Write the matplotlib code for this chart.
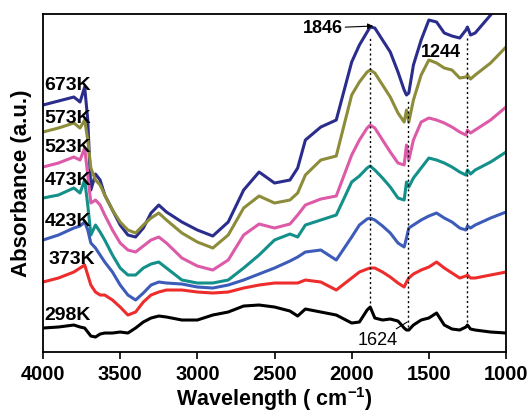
import matplotlib
matplotlib.use("Agg")
import matplotlib.pyplot as plt

# Wavenumber grid (cm-1) shared by every spectrum
wavenumber = [4000, 3900, 3800, 3760, 3730, 3710, 3690, 3660, 3630, 3600,
              3550, 3500, 3450, 3400, 3350, 3300, 3250, 3200, 3100, 3000,
              2900, 2800, 2700, 2600, 2500, 2400, 2350, 2300, 2200, 2100,
              2000, 1950, 1900, 1880, 1850, 1800, 1750, 1700, 1660, 1645,
              1630, 1600, 1550, 1500, 1450, 1400, 1350, 1300, 1260, 1250,
              1230, 1200, 1100, 1000]

# Absorbance (a.u., offset spectra)
abs_673 = [247, 251, 255, 250, 265, 232, 162, 178, 172, 157,
           142, 127, 117, 115, 124, 139, 147, 140, 130, 122,
           116, 130, 162, 180, 169, 172, 184, 212, 225, 232,
           290, 307, 320, 325, 324, 312, 300, 280, 262, 257,
           259, 287, 312, 332, 330, 319, 316, 314, 322, 325,
           317, 319, 337, 357]
abs_573 = [220, 224, 229, 224, 232, 212, 184, 172, 167, 157,
           142, 130, 122, 119, 127, 134, 139, 132, 119, 110,
           104, 117, 144, 156, 149, 152, 159, 177, 192, 196,
           257, 270, 280, 282, 279, 267, 255, 239, 230, 242,
           230, 252, 277, 292, 289, 284, 282, 274, 275, 277,
           273, 277, 289, 305]
abs_523 = [185, 189, 195, 192, 204, 177, 149, 152, 147, 137,
           122, 109, 102, 100, 106, 112, 115, 109, 94, 86,
           82, 92, 117, 128, 124, 128, 137, 147, 153, 156,
           197, 212, 224, 227, 224, 212, 200, 189, 187, 207,
           192, 212, 230, 234, 232, 229, 225, 220, 217, 222,
           219, 222, 232, 245]
abs_473 = [154, 157, 164, 159, 172, 147, 117, 127, 120, 112,
           97, 84, 77, 77, 84, 88, 90, 84, 72, 69,
           69, 72, 84, 97, 112, 118, 115, 127, 132, 137,
           170, 176, 184, 186, 182, 174, 165, 154, 152, 170,
           165, 174, 184, 194, 192, 189, 185, 180, 177, 182,
           178, 182, 190, 200]
abs_423 = [112, 117, 124, 126, 130, 122, 109, 104, 97, 90,
           80, 67, 57, 52, 59, 67, 70, 69, 68, 65,
           64, 67, 72, 78, 84, 91, 95, 100, 102, 92,
           115, 127, 133, 134, 132, 126, 119, 109, 105, 114,
           124, 127, 132, 136, 139, 134, 130, 124, 122, 126,
           124, 127, 134, 140]
abs_373 = [70, 74, 80, 84, 87, 77, 67, 60, 57, 57,
           52, 45, 37, 40, 50, 57, 60, 62, 62, 60,
           59, 60, 64, 67, 69, 69, 69, 72, 70, 62,
           74, 80, 83, 84, 84, 80, 75, 69, 65, 70,
           74, 78, 82, 85, 90, 84, 79, 74, 76, 77,
           74, 74, 77, 80]
abs_298 = [24, 25, 27, 25, 24, 20, 16, 15, 18, 19,
           19, 20, 19, 24, 30, 34, 36, 35, 32, 32,
           37, 40, 46, 47, 45, 41, 36, 43, 40, 37,
           29, 30, 42, 45, 34, 32, 33, 31, 24, 22,
           22, 27, 32, 34, 39, 27, 23, 22, 25, 27,
           23, 22, 20, 19]

labels = ["673K", "573K", "523K", "473K", "423K", "373K", "298K"]
spectra = [abs_673, abs_573, abs_523, abs_473, abs_423, abs_373, abs_298]
colors = ["#2b2d8c", "#8c8c3a", "#dd5aa8", "#13908a", "#3d5cba", "#ee2c2c", "#000000"]
label_y = [267, 234, 205, 172, 131, 93, 37]
label_x = [3990, 3990, 3990, 3990, 3990, 3965, 3990]

# Marker lines: position, bottom, top
mark_pos = [1881, 1635, 1253]
mark_low = [49, 25, 30]
mark_high = [314, 252, 317]

FONT = "Liberation Sans"
plt.rcParams["mathtext.fontset"] = "custom"
plt.rcParams["mathtext.bf"] = "Liberation Sans:bold"
plt.rcParams["mathtext.rm"] = "Liberation Sans"

fig = plt.figure(figsize=(5.27, 4.16), dpi=100)
ax = fig.add_axes([0.0816, 0.1538, 0.8786, 0.8125])

for y, c in zip(spectra, colors):
    ax.plot(wavenumber, y, color=c, lw=2.2)

for x, lo, hi in zip(mark_pos, mark_low, mark_high):
    ax.plot([x, x], [lo, hi], color="black", lw=1.0, ls=(0, (1.5, 2)))

for lab, x, y in zip(labels, label_x, label_y):
    ax.text(x, y, lab, fontsize=14, fontweight="bold", family=FONT,
            ha="left", va="center")

ax.annotate("1846", xy=(1860, 326), xytext=(2060, 324),
            fontsize=13, fontweight="bold", family=FONT, ha="right", va="center",
            arrowprops=dict(arrowstyle="-|>", color="black", lw=0.8,
                            mutation_scale=8, shrinkA=0, shrinkB=0))
ax.text(1420, 300, "1244", fontsize=13, fontweight="bold", family=FONT,
        ha="center", va="center")
ax.annotate("1624", xy=(1640, 30), xytext=(1700, 12),
            fontsize=13, family=FONT, ha="right", va="center",
            arrowprops=dict(arrowstyle="-", color="black", lw=0.8,
                            shrinkA=0, shrinkB=0))

ax.set_xlim(4000, 1000)
ax.set_ylim(0, 338)
ax.set_xticks([4000, 3500, 3000, 2500, 2000, 1500, 1000])
ax.set_yticks([])
ax.tick_params(axis="x", direction="out", length=5, width=1.2, pad=4)
for t in ax.get_xticklabels():
    t.set_fontsize(14.5)
    t.set_fontweight("bold")
    t.set_family(FONT)
for s in ax.spines.values():
    s.set_linewidth(1.3)

ax.set_xlabel("Wavelength ( cm$^{\\mathbf{-1}}$)", fontsize=15.5, fontweight="bold",
              family=FONT, labelpad=1)
ax.set_ylabel("Absorbance (a.u.)", fontsize=16, fontweight="bold",
              family=FONT, labelpad=8)

fig.savefig("out.png", dpi=100)
